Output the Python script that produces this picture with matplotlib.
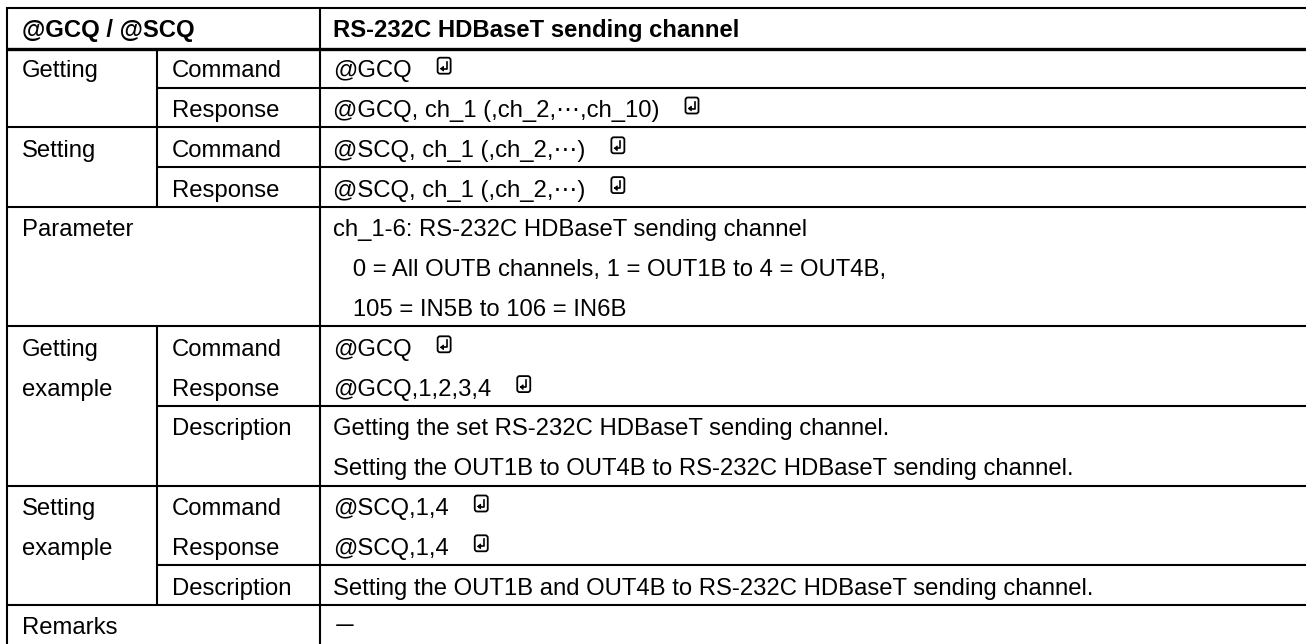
import matplotlib.pyplot as plt
from matplotlib.patches import FancyBboxPatch

# marker for the boxed "return" key symbol at the end of a command line
RET = "\u21b5"

header = ["@GCQ / @SCQ", "RS-232C HDBaseT sending channel"]

section_labels = ["Getting", "Setting", "Parameter",
                  "Getting\nexample", "Setting\nexample", "Remarks"]

getting_rows = [
    (["Command"], ["@GCQ" + RET]),
    (["Response"], ["@GCQ, ch_1 (,ch_2,\u22ef,ch_10)" + RET]),
]
setting_rows = [
    (["Command"], ["@SCQ, ch_1 (,ch_2,\u22ef)" + RET]),
    (["Response"], ["@SCQ, ch_1 (,ch_2,\u22ef)" + RET]),
]
parameter_rows = [
    (None, ["ch_1-6: RS-232C HDBaseT sending channel",
            "   0 = All OUTB channels, 1 = OUT1B to 4 = OUT4B,",
            "   105 = IN5B to 106 = IN6B"]),
]
getting_example_rows = [
    (["Command", "Response"], ["@GCQ" + RET, "@GCQ,1,2,3,4" + RET]),
    (["Description"], ["Getting the set RS-232C HDBaseT sending channel.",
                       "Setting the OUT1B to OUT4B to RS-232C HDBaseT sending channel."]),
]
setting_example_rows = [
    (["Command", "Response"], ["@SCQ,1,4" + RET, "@SCQ,1,4" + RET]),
    (["Description"], ["Setting the OUT1B and OUT4B to RS-232C HDBaseT sending channel."]),
]
remarks_rows = [
    (None, ["\uff0d"]),
]
section_rows = [getting_rows, setting_rows, parameter_rows,
                getting_example_rows, setting_example_rows, remarks_rows]

# layout in pixels
W, H = 1306, 644
X0, X1, X2, XR = 7, 157, 320, 1310
TOP, PITCH = 8, 39.8
PAD = 15
FS = 17.2
FAMILY = ["Liberation Sans", "DejaVu Sans"]

fig = plt.figure(figsize=(W / 100, H / 100), dpi=100)
ax = fig.add_axes([0, 0, 1, 1])
ax.set_xlim(0, W)
ax.set_ylim(H, 0)
ax.axis("off")

texts_with_ret = []


def put(x, y_center, s, bold=False, family=FAMILY):
    has_ret = s.endswith(RET)
    s = s.rstrip(RET)
    t = ax.text(x, y_center + 9.5, s, fontsize=FS, family=family,
                fontweight="bold" if bold else "normal",
                va="baseline", ha="left", color="black")
    if has_ret:
        texts_with_ret.append((t, y_center))


def hline(y, xa, lw=1.5):
    ax.plot([xa, XR], [y, y], color="black", lw=lw, solid_capstyle="butt")


def vline(x, ya, yb, lw=1.5):
    ax.plot([x, x], [ya, yb], color="black", lw=lw, solid_capstyle="butt")


# header
put(X0 + PAD, TOP + PITCH / 2, header[0], bold=True)
put(X2 + PAD - 2, TOP + PITCH / 2, header[1], bold=True)
hline(TOP, X0)
line = 1
hline(TOP + PITCH * line + 1, X0, lw=2.4)

for label, rows in zip(section_labels, section_rows):
    sec_top = TOP + PITCH * line
    for li, s in enumerate(label.split("\n")):
        put(X0 + PAD, sec_top + PITCH * (li + 0.5), s)
    for ri, (sub, vals) in enumerate(rows):
        row_top = TOP + PITCH * line
        if ri > 0:
            hline(row_top, X1)
        if sub is not None:
            for li, s in enumerate(sub):
                put(X1 + PAD, row_top + PITCH * (li + 0.5), s)
        for li, s in enumerate(vals):
            fam = ["Noto Sans CJK JP"] if s == "\uff0d" else FAMILY
            put(X2 + PAD - 2, row_top + PITCH * (li + 0.5), s, family=fam)
        line += max(len(vals), len(sub) if sub else 1)
    sec_bottom = TOP + PITCH * line
    if rows[0][0] is not None:
        vline(X1, sec_top, sec_bottom)
    if sec_bottom < H:
        hline(sec_bottom, X0)

vline(X0, TOP - 0.7, H + 5)
vline(X2, TOP - 0.7, H + 5)

# boxed return symbols after command strings
fig.canvas.draw()
renderer = fig.canvas.get_renderer()
for t, yc in texts_with_ret:
    bb = t.get_window_extent(renderer)
    bx = bb.x1 + 26
    by = yc - 10
    ax.add_patch(FancyBboxPatch((bx, by), 13, 16,
                                boxstyle="round,pad=0,rounding_size=2.5",
                                fc="white", ec="black", lw=1.3))
    ax.plot([bx + 9, bx + 9, bx + 4.5], [by + 4, by + 11, by + 11],
            color="black", lw=1.2)
    ax.plot([bx + 3.5, bx + 5.7, bx + 5.7, bx + 3.5],
            [by + 11, by + 9, by + 13, by + 11],
            color="black", lw=1.0)

fig.savefig("out.png", dpi=100)
